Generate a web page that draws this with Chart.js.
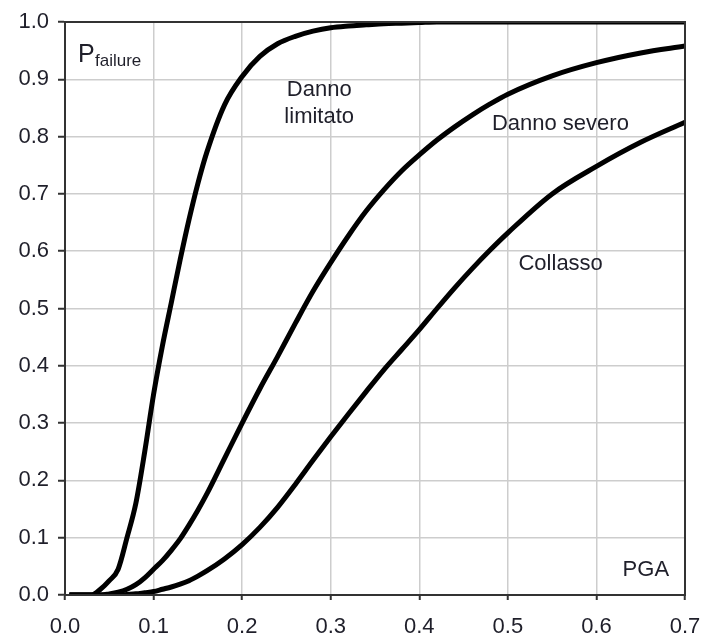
<!DOCTYPE html>
<html>

<head>
  <title>Curve di fragilità</title>
  <script src="https://cdn.jsdelivr.net/npm/chart.js"></script>
  <style>
    body { margin: 0; background: #fff; }
  </style>
</head>

<body>
  <canvas id="myChart" width="702" height="637"></canvas>
  <script>
    // PGA values (g) shared by the three curves
    var pga = [0.005, 0.02, 0.03, 0.04, 0.05, 0.06, 0.07, 0.08, 0.09, 0.10, 0.11, 0.12, 0.13, 0.14, 0.15, 0.16,
      0.18, 0.20, 0.22, 0.24, 0.26, 0.28, 0.30, 0.32, 0.34, 0.36, 0.38, 0.40, 0.42, 0.44, 0.46, 0.48, 0.50,
      0.55, 0.60, 0.65, 0.70];

    // probability of failure
    var dannoLimitato = [0, 0, 0, 0.01, 0.025, 0.045, 0.1, 0.16, 0.25, 0.35, 0.435, 0.51, 0.585, 0.655, 0.718, 0.772,
      0.855, 0.905, 0.94, 0.962, 0.975, 0.984, 0.99, 0.993, 0.995, 0.997, 0.998, 0.999, 1, 1, 1, 1, 1,
      1, 1, 1, 1];
    var dannoSevero = [0, 0, 0, 0, 0.002, 0.005, 0.01, 0.018, 0.03, 0.045, 0.06, 0.078, 0.098, 0.122, 0.148, 0.176,
      0.238, 0.30, 0.36, 0.416, 0.474, 0.53, 0.58, 0.627, 0.67, 0.707, 0.74, 0.768, 0.794, 0.817, 0.838, 0.857, 0.874,
      0.906, 0.929, 0.946, 0.958];
    var collasso = [0, 0, 0, 0, 0, 0, 0.001, 0.002, 0.004, 0.006, 0.01, 0.014, 0.019, 0.025, 0.033, 0.042,
      0.063, 0.088, 0.118, 0.153, 0.193, 0.235, 0.276, 0.316, 0.355, 0.393, 0.428, 0.463, 0.5, 0.536, 0.57, 0.602, 0.632,
      0.7, 0.748, 0.79, 0.825];

    // text placed inside the plot, in data units
    var labels = [
      { text: 'Danno', x: 0.287, y: 0.870, align: 'center' },
      { text: 'limitato', x: 0.287, y: 0.823, align: 'center' },
      { text: 'Danno severo', x: 0.482, y: 0.8115, align: 'left' },
      { text: 'Collasso', x: 0.512, y: 0.567, align: 'left' },
      { text: 'PGA', x: 0.682, y: 0.033, align: 'right' }
    ];

    var fontFamily = '"Liberation Sans", Arial, sans-serif';
    var textColor = '#1f1f2a';

    function toPoints(ys) {
      return pga.map(function (x, i) { return { x: x, y: ys[i] }; });
    }

    function curve(label, ys) {
      return {
        label: label,
        data: toPoints(ys),
        borderColor: '#000',
        borderWidth: 5,
        pointRadius: 0,
        cubicInterpolationMode: 'monotone',
        fill: false
      };
    }

    // frame and in-plot text
    var annotations = {
      id: 'annotations',
      afterDatasetsDraw: function (chart) {
        var ctx = chart.ctx;
        var a = chart.chartArea;
        var xs = chart.scales.x, ys = chart.scales.y;
        ctx.save();
        ctx.strokeStyle = '#333';
        ctx.lineWidth = 2;
        ctx.strokeRect(a.left, a.top, a.right - a.left, a.bottom - a.top);

        ctx.fillStyle = textColor;
        ctx.textBaseline = 'alphabetic';
        ctx.font = '22px ' + fontFamily;
        labels.forEach(function (l) {
          ctx.textAlign = l.align;
          ctx.fillText(l.text, xs.getPixelForValue(l.x), ys.getPixelForValue(l.y));
        });

        // P_failure
        ctx.textAlign = 'left';
        ctx.font = '25px ' + fontFamily;
        ctx.fillText('P', xs.getPixelForValue(0.0147), ys.getPixelForValue(0.930));
        ctx.font = '17px ' + fontFamily;
        ctx.fillText('failure', xs.getPixelForValue(0.0339), ys.getPixelForValue(0.9238));
        ctx.restore();
      }
    };

    var ctx = document.getElementById('myChart').getContext('2d');
    var chart = new Chart(ctx, {
      type: 'line',
      data: {
        datasets: [
          curve('Danno limitato', dannoLimitato),
          curve('Danno severo', dannoSevero),
          curve('Collasso', collasso)
        ]
      },
      options: {
        responsive: false,
        animation: false,
        layout: { padding: { top: 22, right: 17, left: 0, bottom: 0 } },
        plugins: {
          legend: { display: false },
          tooltip: { enabled: false }
        },
        scales: {
          x: {
            type: 'linear',
            min: 0,
            max: 0.7,
            afterFit: function (scale) {
              scale.height = 42;
              scale.paddingLeft = 0;
              scale.paddingRight = 0;
            },
            ticks: {
              stepSize: 0.1,
              padding: 14,
              color: textColor,
              font: { family: fontFamily, size: 22 },
              callback: function (v) { return v.toFixed(1); }
            },
            grid: { color: '#cdcdcd', lineWidth: 1.5, tickLength: 5, tickColor: '#333', tickWidth: 2 },
            border: { color: '#333', width: 2 }
          },
          y: {
            min: 0,
            max: 1,
            afterFit: function (scale) {
              scale.width = 65;
              scale.paddingTop = 0;
              scale.paddingBottom = 0;
            },
            ticks: {
              stepSize: 0.1,
              padding: 9,
              color: textColor,
              font: { family: fontFamily, size: 22 },
              callback: function (v) { return v.toFixed(1); }
            },
            grid: { color: '#cdcdcd', lineWidth: 1.5, tickLength: 7, tickColor: '#333', tickWidth: 2 },
            border: { color: '#333', width: 2 }
          }
        }
      },
      plugins: [annotations]
    });
  </script>
</body>

</html>
